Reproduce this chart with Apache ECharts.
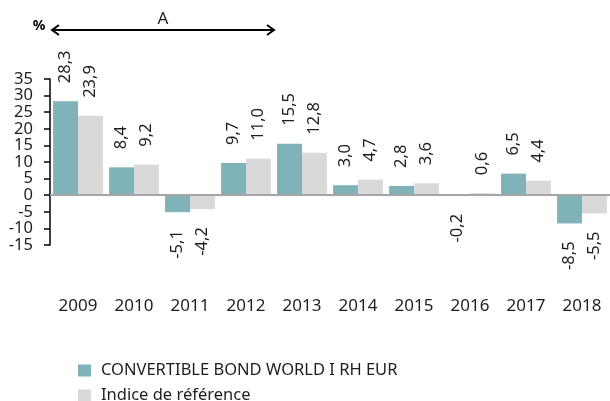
<!DOCTYPE html>
<html><head><meta charset="utf-8">
<script src="https://cdn.jsdelivr.net/npm/echarts@6/dist/echarts.min.js"></script>
<style>html,body{margin:0;padding:0;background:#fff}#c{width:610px;height:401px}</style>
</head><body><div id="c"></div>
<script>
const categories = ['2009','2010','2011','2012','2013','2014','2015','2016','2017','2018'];
const fundValues = [28.3, 8.4, -5.1, 9.7, 15.5, 3.0, 2.8, -0.2, 6.5, -8.5];
const indexValues = [23.9, 9.2, -4.2, 11.0, 12.8, 4.7, 3.6, 0.6, 4.4, -5.5];
const seriesNames = ['CONVERTIBLE BOND WORLD I RH EUR', 'Indice de référence'];
const yTickLabels = ['-15','-10','-5','0','5','10','15','20','25','30','35'];
const yTicks = { min: -15, max: 35, interval: 5 };
const periodLabel = 'A';
const periodRange = ['2009', '2012'];

const FONT = 'Noto Sans';
const TXT = '#1e1e1e';
function items(vals) {
  return vals.map(v => v < 0
    ? { value: v, label: { position: 'bottom', align: 'right' } }
    : { value: v, label: { position: 'top', align: 'left' } });
}
const labelCfg = {
  show: true, rotate: 90, distance: 18, verticalAlign: 'middle',
  fontFamily: FONT, fontSize: 16.5, color: TXT,
  formatter: p => p.value.toFixed(1).replace('.', ',')
};
const legendText = { fontFamily: FONT, fontSize: 16.5, color: TXT, padding: [0, 0, 0, 5] };
const chart = echarts.init(document.getElementById('c'), null, { renderer: 'canvas' });
const option = {
  animation: false,
  textStyle: { fontFamily: FONT },
  grid: { left: 50, top: 79, width: 563, height: 166, containLabel: false },
  legend: [
    { left: 73, top: 357, itemWidth: 13, itemHeight: 12, icon: 'rect', textStyle: legendText, data: [seriesNames[0]] },
    { left: 73, top: 382, itemWidth: 13, itemHeight: 12, icon: 'rect', textStyle: legendText, data: [seriesNames[1]] }
  ],
  xAxis: {
    type: 'category', data: categories, position: 'bottom',
    axisLine: { show: false, onZero: false }, axisTick: { show: false },
    axisLabel: { margin: 53, fontFamily: FONT, fontSize: 17, color: TXT }
  },
  yAxis: [
    {
      type: 'value', min: yTicks.min, max: yTicks.max, interval: yTicks.interval,
      axisLine: { show: true, onZero: false, lineStyle: { color: '#000', width: 1.5 } },
      axisTick: { show: true, length: 6, lineStyle: { color: '#000', width: 1.5 } },
      splitLine: { show: false },
      axisLabel: { show: false }
    },
    {
      type: 'category', data: yTickLabels, boundaryGap: false, position: 'left',
      axisLine: { show: false }, axisTick: { show: false }, splitLine: { show: false },
      axisLabel: { interval: 0, margin: 17, fontFamily: FONT, fontSize: 16.5, color: TXT }
    }
  ],
  series: [
    {
      name: seriesNames[0], type: 'bar', data: items(fundValues), yAxisIndex: 0,
      barGap: '0%', barCategoryGap: '11%',
      itemStyle: { color: '#7fb3b9' }, label: labelCfg,
      markLine: {
        silent: true, symbol: 'none', label: { show: false },
        lineStyle: { color: '#a6a6a6', width: 2, type: 'solid' },
        data: [{ yAxis: 0 }]
      }
    },
    {
      name: seriesNames[1], type: 'bar', data: items(indexValues), yAxisIndex: 0,
      barGap: '0%', barCategoryGap: '11%',
      itemStyle: { color: '#d9d9d9' }, label: labelCfg
    }
  ]
};
chart.setOption(option);

// annotation arrow spanning the period, positioned from axis coordinates
const i0 = categories.indexOf(periodRange[0]);
const i1 = categories.indexOf(periodRange[1]);
const c0 = chart.convertToPixel({ xAxisIndex: 0 }, i0);
const c1 = chart.convertToPixel({ xAxisIndex: 0 }, i1);
const half = (chart.convertToPixel({ xAxisIndex: 0 }, 1) - chart.convertToPixel({ xAxisIndex: 0 }, 0)) / 2;
const xa = c0 - half + 2, xb = c1 + half;
const ya = 30;
chart.setOption({
  graphic: [
    { type: 'line', shape: { x1: xa, y1: ya, x2: xb, y2: ya }, style: { stroke: '#000', lineWidth: 2 } },
    { type: 'polyline', shape: { points: [[xa + 7, ya - 5], [xa, ya], [xa + 7, ya + 5]] }, style: { stroke: '#000', lineWidth: 2, fill: null } },
    { type: 'polyline', shape: { points: [[xb - 7, ya - 5], [xb, ya], [xb - 7, ya + 5]] }, style: { stroke: '#000', lineWidth: 2, fill: null } },
    { type: 'text', x: (xa + xb) / 2, y: 19, style: { text: periodLabel, font: '17px "Noto Sans"', fill: TXT, align: 'center', verticalAlign: 'middle' } },
    { type: 'text', x: 39, y: 26, style: { text: '%', font: 'bold 14px "Noto Sans"', fill: '#000', align: 'center', verticalAlign: 'middle' } }
  ]
});
</script></body></html>
